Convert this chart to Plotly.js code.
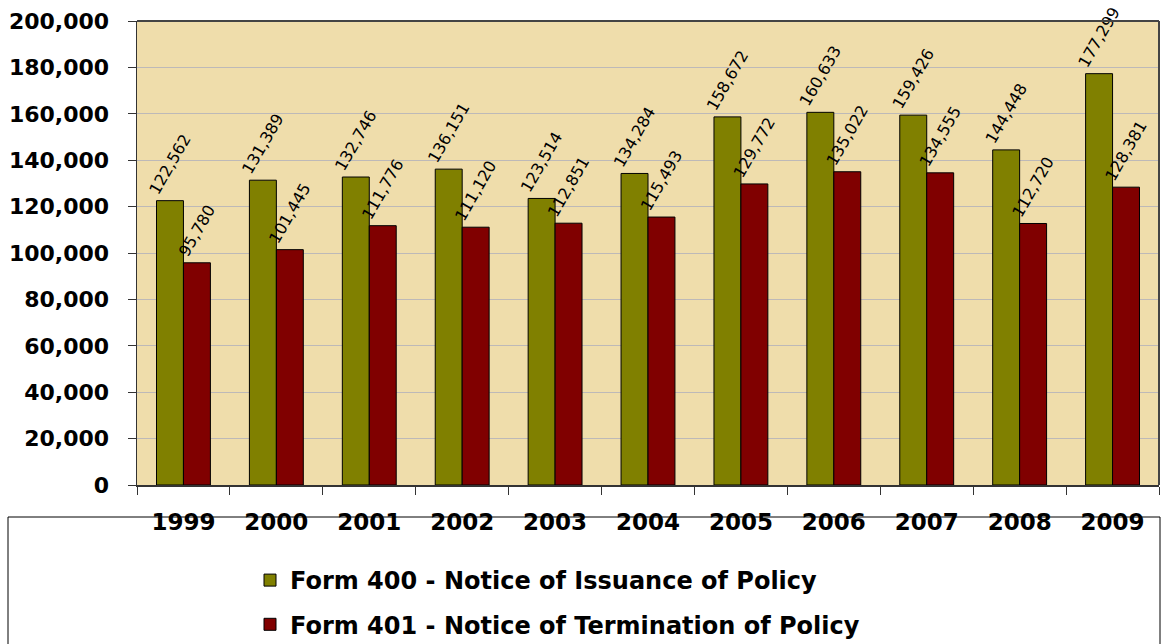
<!DOCTYPE html>
<html>
<head>
<meta charset="utf-8">
<script src="https://cdn.plot.ly/plotly-3.0.1.min.js"></script>
<style>html,body{margin:0;padding:0;background:#fff;}#chart{width:1164px;height:644px;}</style>
</head>
<body>
<div id="chart"></div>
<script>
const years = ["1999","2000","2001","2002","2003","2004","2005","2006","2007","2008","2009"];
const form400 = [122562,131389,132746,136151,123514,134284,158672,160633,159426,144448,177299];
const form401 = [95780,101445,111776,111120,112851,115493,129772,135022,134555,112720,128381];
const seriesNames = ["Form 400 - Notice of Issuance of Policy","Form 401 - Notice of Termination of Policy"];
const yTicks = [0,20000,40000,60000,80000,100000,120000,140000,160000,180000,200000];

const fmt = v => v.toLocaleString("en-US");
const W = 1164, H = 644, ml = 137, mr = 5, mt = 21, mb = 159;
const pw = W - ml - mr, ph = H - mt - mb;
const FONT = "DejaVu Sans, Liberation Sans, Arial, sans-serif";

function barTrace(name, vals, color, grp) {
  return {
    type: "bar", name: name, x: years, y: vals,
    marker: {color: color, line: {color: "#000", width: 1}},
    text: vals.map(fmt), textposition: "outside", textangle: -60,
    constraintext: "none", cliponaxis: false,
    textfont: {family: FONT, size: 16, color: "#000"},
    legendgroup: grp, hoverinfo: "x+y"
  };
}

const data = [
  barTrace(seriesNames[0], form400, "#808000", "a"),
  barTrace(seriesNames[1], form401, "#800000", "b")
];

const layout = {
  width: W, height: H,
  margin: {l: ml, r: mr, t: mt, b: mb, autoexpand: false},
  paper_bgcolor: "#ffffff",
  plot_bgcolor: "#EFDDAB",
  barmode: "group", bargap: 0.42, bargroupgap: 0,
  font: {family: FONT, color: "#000"},
  xaxis: {
    type: "category", automargin: false,
    tickfont: {family: FONT, size: 23, weight: "bold"},
    showline: true, linecolor: "#333", linewidth: 1.5,
    ticks: "outside", ticklen: 8, tickcolor: "#333",
    tickson: "boundaries", ticklabelstandoff: 16,
    showgrid: false, mirror: false
  },
  yaxis: {
    range: [0, 200000], tickvals: yTicks, ticktext: yTicks.map(fmt),
    automargin: false,
    tickfont: {family: FONT, size: 22, weight: "bold"},
    showline: true, linecolor: "#333", linewidth: 1.5,
    ticks: "outside", ticklen: 8, tickcolor: "#333",
    ticklabelstandoff: 14,
    showgrid: true, gridcolor: "#BDB9B8", gridwidth: 1,
    zeroline: false
  },
  showlegend: true,
  legend: {
    orientation: "v", x: (250 - ml) / pw, xanchor: "left", y: -(558 - (mt + ph)) / ph, yanchor: "top",
    font: {family: FONT, size: 24, weight: "bold"},
    bgcolor: "rgba(0,0,0,0)", borderwidth: 0,
    traceorder: "grouped", tracegroupgap: 10
  },
  shapes: [
    {type: "line", xref: "paper", yref: "paper", x0: 0, x1: 1, y0: 1, y1: 1, line: {color: "#444", width: 2}},
    {type: "line", xref: "paper", yref: "paper", x0: 1, x1: 1, y0: 0, y1: 1, line: {color: "#444", width: 2}},
    {type: "rect", xref: "paper", yref: "paper",
     x0: (8 - ml) / pw, x1: (1160 - ml) / pw,
     y0: (mt + ph - 660) / ph, y1: (mt + ph - 517) / ph,
     line: {color: "#000", width: 1}, fillcolor: "rgba(0,0,0,0)"}
  ]
};

Plotly.newPlot("chart", data, layout, {displayModeBar: false, staticPlot: true});
</script>
</body>
</html>
